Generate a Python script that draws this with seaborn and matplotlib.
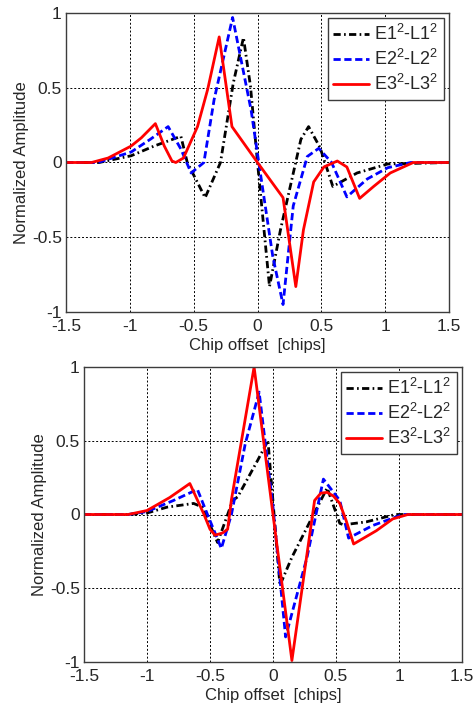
import numpy as np
import pandas as pd
import matplotlib
matplotlib.use("Agg")
import matplotlib.pyplot as plt
import seaborn as sns

# ---------------- data ----------------
series_names = ["E1", "E2", "E3"]
legend_labels = ["E1$^2$-L1$^2$", "E2$^2$-L2$^2$", "E3$^2$-L3$^2$"]

# top panel
top_e1_x = [-1.5, -1.24, -0.99, -0.81, -0.60, -0.55, -0.41, -0.29, -0.19, -0.11, -0.055, 0.0, 0.094, 0.18, 0.34, 0.40, 0.49, 0.59, 0.78, 1.02, 1.5]
top_e1_y = [0.0, 0.0, 0.045, 0.11, 0.175, 0.0, -0.235, 0.0, 0.53, 0.835, 0.51, 0.0, -0.83, -0.45, 0.155, 0.24, 0.10, -0.16, -0.07, -0.01, 0.0]

top_e2_x = [-1.5, -1.25, -0.99, -0.84, -0.70, -0.60, -0.52, -0.42, -0.34, -0.195, -0.05, 0.01, 0.12, 0.20, 0.28, 0.39, 0.48, 0.58, 0.70, 0.86, 1.02, 1.2, 1.5]
top_e2_y = [0.0, 0.0, 0.07, 0.155, 0.24, 0.09, -0.07, 0.0, 0.42, 0.97, 0.35, 0.0, -0.63, -0.95, -0.29, 0.04, 0.095, 0.0, -0.23, -0.11, -0.035, 0.0, 0.0]

top_e3_x = [-1.5, -1.3, -1.17, -0.99, -0.91, -0.80, -0.73, -0.67, -0.64, -0.58, -0.47, -0.39, -0.30, -0.20, 0.0, 0.20, 0.30, 0.36, 0.44, 0.52, 0.625, 0.70, 0.80, 0.91, 1.04, 1.22, 1.5]
top_e3_y = [0.0, 0.0, 0.03, 0.11, 0.165, 0.26, 0.11, 0.01, 0.0, 0.03, 0.24, 0.49, 0.84, 0.24, 0.0, -0.235, -0.83, -0.45, -0.13, -0.03, 0.01, -0.03, -0.24, -0.16, -0.07, 0.0, 0.0]

# bottom panel
bot_e1_x = [-1.5, -1.15, -1.0, -0.84, -0.63, -0.56, -0.44, -0.32, -0.28, -0.12, -0.04, 0.055, 0.15, 0.31, 0.43, 0.53, 0.56, 0.74, 0.97, 1.5]
bot_e1_y = [0.0, 0.0, 0.01, 0.05, 0.075, 0.05, -0.19, 0.095, 0.12, 0.37, 0.50, -0.48, -0.29, -0.02, 0.18, -0.06, -0.07, -0.05, 0.0, 0.0]

bot_e2_x = [-1.5, -1.15, -1.0, -0.79, -0.60, -0.52, -0.41, -0.33, -0.22, -0.11, 0.0, 0.10, 0.27, 0.40, 0.53, 0.60, 0.79, 1.03, 1.5]
bot_e2_y = [0.0, 0.0, 0.02, 0.095, 0.17, 0.0, -0.23, 0.0, 0.48, 0.83, 0.05, -0.83, -0.29, 0.24, 0.095, -0.16, -0.075, 0.0, 0.0]

bot_e3_x = [-1.5, -1.15, -1.0, -0.82, -0.66, -0.55, -0.50, -0.46, -0.40, -0.36, -0.33, -0.15, 0.0, 0.15, 0.33, 0.38, 0.43, 0.48, 0.53, 0.58, 0.64, 0.82, 0.95, 1.07, 1.5]
bot_e3_y = [0.0, 0.0, 0.027, 0.115, 0.21, 0.005, -0.10, -0.14, -0.125, -0.10, 0.10, 1.0, 0.0, -0.99, 0.095, 0.145, 0.15, 0.125, 0.075, -0.04, -0.2, -0.11, -0.03, 0.0, 0.0]

x_ticks = [-1.5, -1, -0.5, 0, 0.5, 1, 1.5]
x_ticklabels = ["-1.5", "-1", "-0.5", "0", "0.5", "1", "1.5"]
y_ticks = [-1, -0.5, 0, 0.5, 1]
y_ticklabels = ["-1", "-0.5", "0", "0.5", "1"]
x_label = "Chip offset  [chips]"
y_label = "Normalized Amplitude"

# ---------------- styling ----------------
sns.set_style("white")
plt.rcParams["font.family"] = ["Liberation Sans", "DejaVu Sans"]
plt.rcParams["mathtext.default"] = "regular"
plt.rcParams["axes.unicode_minus"] = False

palette = {"E1": "black", "E2": "#0000ff", "E3": "#ff0000"}
dashes = {"E1": (2.6, 1.2, 0.6, 1.2), "E2": (2.6, 1.3), "E3": ""}
spine_col = "#3c3c3c"


def make_df(xs, ys):
    frames = []
    for name, x, y in zip(series_names, xs, ys):
        frames.append(pd.DataFrame({"x": x, "y": y, "series": name}))
    return pd.concat(frames, ignore_index=True)


df_top = make_df([top_e1_x, top_e2_x, top_e3_x], [top_e1_y, top_e2_y, top_e3_y])
df_bot = make_df([bot_e1_x, bot_e2_x, bot_e3_x], [bot_e1_y, bot_e2_y, bot_e3_y])

fig = plt.figure(figsize=(4.75, 7.04), dpi=100)
ax1 = fig.add_axes([66 / 475, 1 - 312 / 704, (449 - 66) / 475, (312 - 13) / 704])
ax2 = fig.add_axes([84 / 475, 1 - 662 / 704, (462 - 84) / 475, (662 - 367) / 704])


def style_axes(ax, df):
    sns.lineplot(data=df, x="x", y="y", hue="series", style="series",
                 palette=palette, dashes=dashes, sort=False, estimator=None,
                 linewidth=2.0, ax=ax, legend=True)
    ax.set_xlim(-1.5, 1.5)
    ax.set_ylim(-1, 1)
    ax.set_xticks(x_ticks)
    ax.set_xticklabels(x_ticklabels, fontsize=12.5)
    ax.set_yticks(y_ticks)
    ax.set_yticklabels(y_ticklabels, fontsize=12.5)
    ax.set_xlabel(x_label, fontsize=12, labelpad=3)
    ax.set_ylabel(y_label, fontsize=12, labelpad=2)
    ax.grid(True, color="black", linestyle=(0, (2, 2)), linewidth=0.7)
    ax.tick_params(direction="in", length=4, color=spine_col)
    ax.tick_params(axis="x", pad=5)
    ax.tick_params(axis="y", pad=3)
    for sp in ax.spines.values():
        sp.set_color(spine_col)
        sp.set_linewidth(1.0)
    handles, _ = ax.get_legend_handles_labels()
    leg = ax.legend(handles[-3:], legend_labels, loc="upper right", fontsize=13,
                    handlelength=2.0, handletextpad=0.25, labelspacing=0.28,
                    borderpad=0.3, borderaxespad=0.3, fancybox=False,
                    framealpha=1, edgecolor=spine_col)
    leg.get_frame().set_linewidth(1.0)


style_axes(ax1, df_top)
style_axes(ax2, df_bot)

fig.savefig("out.png", dpi=100, facecolor="white")
